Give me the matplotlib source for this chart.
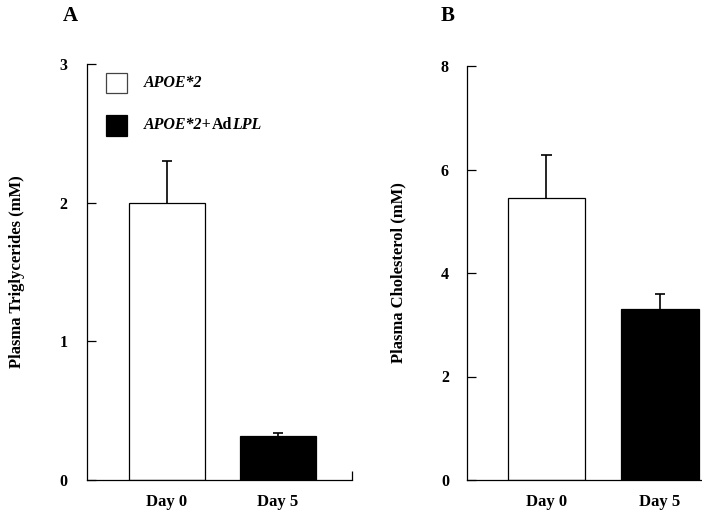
import matplotlib
matplotlib.use("Agg")
import matplotlib.pyplot as plt
from matplotlib.patches import Rectangle

plt.rcParams['font.family'] = ['Liberation Serif', 'DejaVu Serif']
plt.rcParams['font.weight'] = 'bold'

days = ["Day 0", "Day 5"]
colors = ["white", "black"]

# panel A: triglycerides
tg_mean = [2.00, 0.32]
tg_err = [0.30, 0.02]
tg_ticks = [0, 1, 2, 3]

# panel B: cholesterol
chol_mean = [5.45, 3.30]
chol_err = [0.83, 0.29]
chol_ticks = [0, 2, 4, 6, 8]

W, H = 702, 513
fig = plt.figure(figsize=(W / 100, H / 100), dpi=100)


def px_axes(left, top, right, bottom):
    return fig.add_axes([left / W, 1 - bottom / H, (right - left) / W, (bottom - top) / H])


def style(ax, ylabel, ticks, pad):
    for s in ["top", "right"]:
        ax.spines[s].set_visible(False)
    for s in ["left", "bottom"]:
        ax.spines[s].set_linewidth(0.9)
    ax.set_yticks(ticks)
    ax.set_yticklabels([str(t) for t in ticks], fontsize=11.5, fontweight='bold')
    ax.tick_params(axis='y', direction='in', length=6.5, width=0.9, pad=pad)
    ax.set_xticks([0, 1])
    ax.set_xticklabels(days, fontsize=12, fontweight='bold')
    ax.tick_params(axis='x', which='major', length=0, pad=10)
    ax.set_ylabel(ylabel, fontsize=12, fontweight='bold')


def bars(ax, means, errs, width, cap):
    ax.bar([0, 1], means, width=width, color=colors, edgecolor='black', linewidth=0.9, zorder=2)
    tops = [m + e for m, e in zip(means, errs)]
    ax.vlines([0, 1], means, tops, colors='black', linewidth=1.2, zorder=1)
    ax.hlines(tops, [x - cap for x in [0, 1]], [x + cap for x in [0, 1]],
              colors='black', linewidth=1.2, zorder=1)


# ---- A ----
axA = px_axes(87, 64, 352, 480)
bars(axA, tg_mean, tg_err, 0.685, 0.045)
axA.set_ylim(0, 3)
axA.set_xlim(-0.721, 1.667)
style(axA, "Plasma Triglycerides (mM)", tg_ticks, 14)
axA.set_xticks([1.667], minor=True)
axA.tick_params(axis='x', which='minor', direction='in', length=6.5, width=0.9)
axA.yaxis.set_label_coords((25 - 87) / 265, 0.5)

# legend drawn by hand
axA.add_patch(Rectangle((0.072, 0.930), 0.079, 0.048, transform=axA.transAxes,
                        facecolor='white', edgecolor='#444444', linewidth=0.9, clip_on=False))
axA.add_patch(Rectangle((0.072, 0.827), 0.079, 0.050, transform=axA.transAxes,
                        facecolor='black', edgecolor='black', linewidth=0.9, clip_on=False))
axA.text(0.215, 0.954, "APOE*2", transform=axA.transAxes, fontsize=11.5,
         fontweight='bold', style='italic', va='center')

fig.canvas.draw()
renderer = fig.canvas.get_renderer()
x0 = 0.215
for piece, it in [("APOE*2+", True), ("Ad", False), ("LPL", True)]:
    t = axA.text(x0, 0.853, piece, transform=axA.transAxes, fontsize=11.5,
                 fontweight='bold', style='italic' if it else 'normal', va='center')
    bb = t.get_window_extent(renderer)
    x0 += bb.width / 265

fig.text(70 / W, 1 - 16 / H, "A", fontsize=15, fontweight='bold', ha='center', va='center')

# ---- B ----
axB = px_axes(467, 66, 702, 480)
bars(axB, chol_mean, chol_err, 0.68, 0.045)
axB.set_ylim(0, 8)
axB.set_xlim(-0.70, 1.37)
style(axB, "Plasma Cholesterol (mM)", chol_ticks, 13)
axB.yaxis.set_label_coords((406 - 467) / 235, 0.5)

fig.text(448 / W, 1 - 16 / H, "B", fontsize=15, fontweight='bold', ha='center', va='center')

fig.savefig("out.png", dpi=100)
